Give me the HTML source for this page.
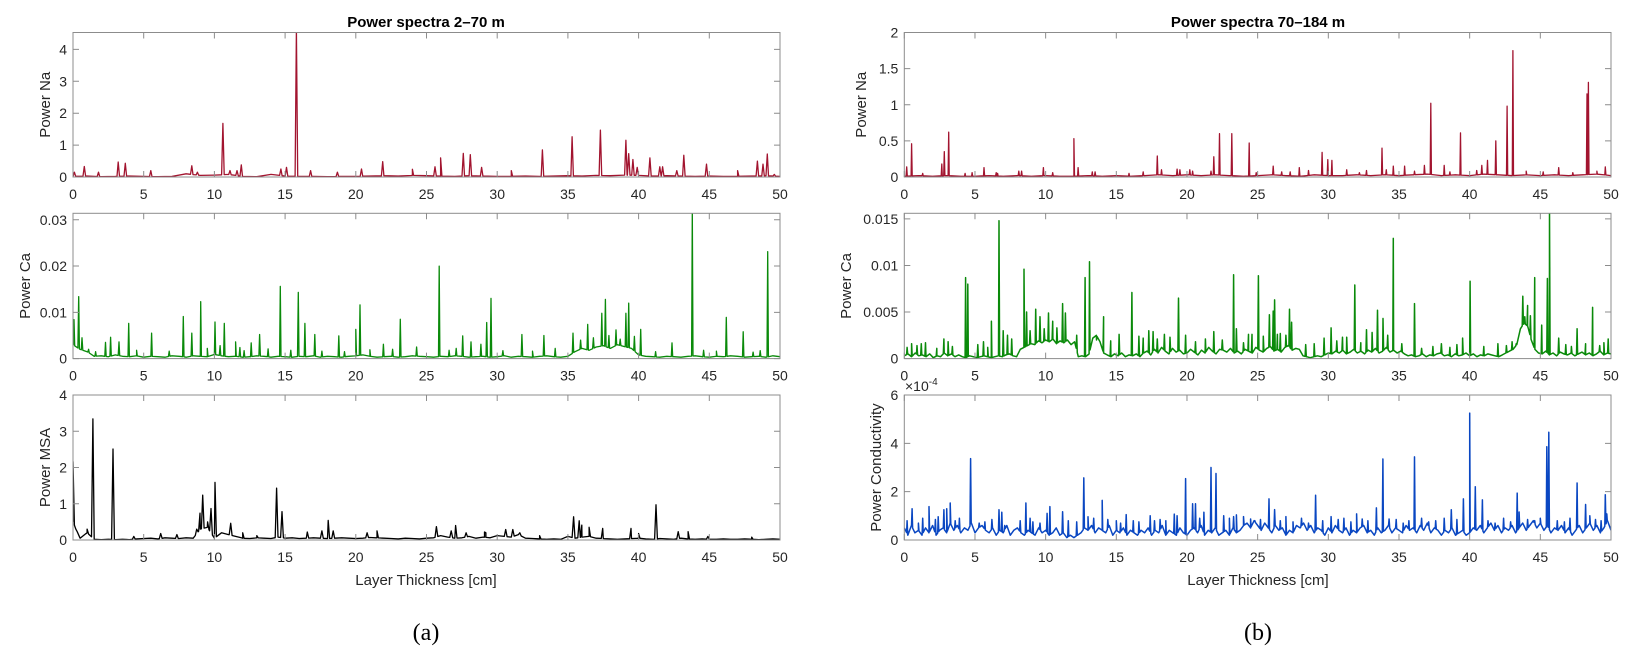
<!DOCTYPE html>
<html><head><meta charset="utf-8">
<style>
html,body{margin:0;padding:0;background:#fff;}
svg{display:block;font-family:"Liberation Sans",sans-serif;}
.tk{font-size:14px;fill:#262626;}
.lab{font-size:15px;fill:#262626;}
</style></head>
<body>
<svg id="fig" width="1634" height="659" viewBox="0 0 1634 659" xmlns="http://www.w3.org/2000/svg">
<text x="426" y="27" text-anchor="middle" font-weight="bold" font-size="15" fill="#000">Power spectra 2–70 m</text>
<text x="1258" y="27" text-anchor="middle" font-weight="bold" font-size="15" fill="#000">Power spectra 70–184 m</text>
<text x="426" y="585" text-anchor="middle" class="lab">Layer Thickness [cm]</text>
<text x="1258" y="585" text-anchor="middle" class="lab">Layer Thickness [cm]</text>
<text x="426" y="640" text-anchor="middle" font-family="Liberation Serif,serif" font-size="24" fill="#000">(a)</text>
<text x="1258" y="640" text-anchor="middle" font-family="Liberation Serif,serif" font-size="24" fill="#000">(b)</text>
<text x="905" y="391" class="tk" fill="#555">×10<tspan font-size="10" dy="-6">-4</tspan></text>
</svg>
<script>
// ---------- data ----------
const xTicks=[0,5,10,15,20,25,30,35,40,45,50];
// Left Na
const naLPeakX=[0.1,0.8,1.8,3.2,3.7,5.5,8.4,8.8,10.6,11.1,11.6,11.9,14.7,15.1,15.8,16.8,18.7,20.4,21.9,24.0,25.6,26.0,27.6,28.1,28.9,31.0,33.2,35.3,37.3,39.1,39.3,39.6,39.9,40.8,41.5,41.7,42.7,43.2,44.8,47.0,48.4,48.8,49.1,49.6];
const naLPeakY=[0.15,0.33,0.15,0.47,0.43,0.2,0.35,0.15,1.68,0.2,0.2,0.38,0.25,0.3,4.7,0.2,0.15,0.25,0.48,0.24,0.32,0.6,0.74,0.7,0.3,0.2,0.85,1.26,1.47,1.15,0.73,0.55,0.3,0.6,0.32,0.32,0.2,0.68,0.4,0.2,0.5,0.4,0.72,0.08];
const naLBase=[0.02,0.03,0.01,0.02,0.03,0.02,0.01,0.02,0.1,0.05,0.06,0.08,0.02,0.01,0.08,0.03,0.02,0.02,0.01,0.02,0.02,0.03,0.04,0.03,0.05,0.04,0.03,0.02,0.04,0.03,0.02,0.02,0.03,0.02,0.03,0.04,0.03,0.05,0.04,0.06,0.05,0.03,0.04,0.03,0.02,0.03,0.02,0.02,0.03,0.04,0.02];
// Left Ca (units of 0.001)
const caLPeakX=[0.07,0.4,0.64,2.3,2.66,3.25,3.94,5.56,7.8,8.4,9.03,10.04,10.7,11.5,12.6,13.2,14.66,15.93,16.4,17.1,18.8,20.0,20.3,21.95,23.15,24.3,25.9,27.56,28.15,28.85,29.26,29.56,31.75,33.3,34.1,35.36,36.4,37.4,37.65,38.4,39.1,39.3,40.15,42.36,43.8,46.2,47.4,49.13,
 1.1,1.6,4.5,6.8,9.5,10.4,11.8,12.1,13.8,15.4,17.6,19.2,21.0,22.6,26.6,27.1,30.4,32.5,35.9,36.8,37.9,38.7,39.7,41.2,44.6,45.5,48.1,48.6];
const caLPeakY=[8.4,13.4,4.5,3.5,4.6,3.6,7.6,5.5,9.1,5.5,12.3,7.9,7.6,3.6,3.4,5.2,15.6,14.3,7.6,5.2,4.9,6.3,11.6,3.1,8.5,2.5,20,4.9,3.6,3.1,7.8,13,5.2,5,2.2,5.5,7.4,9.8,12.8,6.2,9.8,12,6.3,3.4,33,8.9,5.8,23.1,
 2.0,1.5,1.8,1.6,2.2,2.8,2.4,1.7,2.1,1.8,1.6,1.5,1.9,2.0,1.8,2.2,1.7,1.6,4.0,4.5,5.0,4.2,4.8,1.5,1.8,1.6,1.4,1.7];
const caLBase=[3,2,1.5,0.5,0.6,0.4,0.8,0.5,0.4,0.6,0.3,0.5,0.4,0.3,0.6,0.5,0.3,0.6,0.5,0.4,0.9,0.6,0.4,0.5,0.3,0.4,0.6,0.5,0.3,0.5,0.4,0.3,0.5,0.4,0.6,0.3,0.5,0.4,0.3,0.5,0.6,0.8,0.5,0.3,0.4,0.5,0.3,0.4,0.6,0.5,0.4,0.3,0.5,0.4,0.6,0.5,0.3,0.4,0.5,0.3,0.4,0.6,0.3,0.5,0.4,0.3,0.5,0.6,0.4,0.3,0.5,1.5,2.2,1.8,2.5,2.8,2.2,3,2.6,2.2,0.8,0.5,0.4,0.3,0.5,0.4,0.3,0.5,0.6,0.4,0.3,0.5,0.4,0.6,0.5,0.3,0.4,0.5,0.3,0.6,0.4];
// Left MSA
const msaPeakX=[0.0,0.2,1.0,1.41,2.83,4.3,6.2,7.35,8.75,8.98,9.17,9.52,9.76,10.04,11.15,12.0,13.0,14.4,14.78,16.57,17.6,18.05,18.4,20.8,21.5,25.7,26.75,27.06,27.8,29.1,29.2,30.6,31.1,31.6,33.0,35.4,35.8,35.98,36.5,37.46,39.46,40.0,41.23,42.8,43.5,44.9,48.0];
const msaPeakY=[2.16,0.3,0.3,3.34,2.51,0.1,0.18,0.15,0.3,0.74,1.24,0.5,0.87,1.59,0.46,0.2,0.12,1.43,0.78,0.22,0.25,0.54,0.25,0.2,0.25,0.37,0.25,0.4,0.2,0.22,0.2,0.29,0.29,0.2,0.12,0.64,0.53,0.41,0.35,0.32,0.32,0.18,0.97,0.23,0.23,0.1,0.08];
const msaBase=[0.5,0.05,0.2,0.02,0.01,0.02,0.01,0.02,0.01,0.03,0.04,0.05,0.03,0.06,0.05,0.04,0.06,0.05,0.3,0.35,0.05,0.2,0.15,0.1,0.05,0.04,0.06,0.05,0.04,0.08,0.05,0.06,0.04,0.05,0.06,0.05,0.04,0.05,0.06,0.05,0.04,0.05,0.07,0.06,0.05,0.04,0.03,0.05,0.04,0.03,0.05,0.06,0.12,0.08,0.05,0.06,0.1,0.05,0.08,0.06,0.12,0.1,0.08,0.15,0.05,0.04,0.03,0.02,0.03,0.02,0.1,0.05,0.08,0.1,0.05,0.04,0.03,0.02,0.03,0.04,0.05,0.03,0.02,0.04,0.03,0.02,0.05,0.03,0.02,0.03,0.02,0.02,0.03,0.02,0.02,0.03,0.02,0.01,0.02,0.03,0.02];
// Right Na
const naRPeakX=[0.17,0.52,1.3,2.65,2.83,3.14,5.64,6.6,8.1,9.84,12.0,12.3,13.3,15.9,17.9,18.2,19.3,19.5,20.2,21.7,21.9,22.3,23.17,24.4,26.1,26.7,27.95,29.56,29.96,30.25,31.3,32.7,33.8,34.6,35.4,36.8,37.25,38.2,39.35,40.86,41.26,41.85,42.65,43.06,46.3,48.3,48.4,49.6,
 4.3,4.8,6.5,8.3,10.5,13.5,16.9,20.4,24.9,27.3,28.6,32.2,34.1,36.1,38.6,40.5,44.0,45.2,47.3,49.0];
const naRPeakY=[0.14,0.46,0.05,0.18,0.35,0.62,0.13,0.05,0.08,0.13,0.53,0.13,0.07,0.05,0.29,0.1,0.11,0.1,0.1,0.08,0.28,0.6,0.6,0.47,0.15,0.07,0.13,0.34,0.24,0.23,0.1,0.09,0.4,0.15,0.15,0.16,1.02,0.16,0.61,0.16,0.23,0.5,0.98,1.75,0.13,1.15,1.31,0.14,
 0.05,0.06,0.06,0.08,0.06,0.07,0.07,0.08,0.06,0.07,0.09,0.06,0.1,0.08,0.07,0.09,0.08,0.07,0.06,0.08];
const naRBase=[0.01,0.02,0.01,0.02,0.01,0.01,0.02,0.01,0.02,0.01,0.02,0.01,0.01,0.02,0.01,0.02,0.01,0.02,0.03,0.02,0.03,0.02,0.03,0.02,0.01,0.02,0.03,0.02,0.01,0.03,0.02,0.02,0.03,0.02,0.03,0.02,0.03,0.04,0.02,0.03,0.02,0.04,0.03,0.02,0.03,0.02,0.03,0.02,0.03,0.04,0.02];
// Right Ca (units of 0.001)
const caRPeakX=[0.52,1.5,2.8,3.1,4.34,4.49,5.6,6.16,6.7,7.0,7.6,8.47,8.65,9.3,9.6,10.2,10.5,11.2,11.4,12.2,12.79,13.1,14.1,15.2,16.1,17.3,19.4,19.9,21.9,23.3,23.5,24.35,24.6,25.05,25.83,26.1,26.2,26.6,27.0,27.25,27.4,30.2,31.3,31.87,32.7,33.48,33.87,34.6,36.1,38.0,39.5,40.03,43.3,43.76,43.9,44.1,44.3,44.6,45.1,45.5,45.65,46.3,47.6,48.7,49.8,
 0.2,0.9,1.2,2.3,3.4,5.2,5.9,7.3,8.9,9.9,10.8,13.6,14.6,16.6,16.9,17.6,17.9,18.4,18.8,20.6,21.3,22.5,24.0,25.4,26.4,28.4,29.0,29.7,30.6,31.0,32.3,33.1,34.2,35.2,36.6,37.4,38.6,39.1,41.0,42.0,42.6,43.0,46.8,47.2,48.2,49.2,49.5];
const caRPeakY=[1.6,1.7,2.1,1.8,8.7,8.0,1.8,4.0,14.8,3.0,2.1,9.6,5.0,5.3,4.5,4.9,4.0,5.9,4.9,2.5,8.7,10.4,4.5,2.6,7.1,3.0,6.5,2.5,2.9,9.0,3.2,2.6,2.6,8.9,4.7,5.1,6.3,2.7,2.5,5.3,3.9,3.3,2.3,7.9,3.1,5.2,4.3,12.9,5.9,1.6,2.2,8.3,1.6,6.7,4.5,5.7,4.6,8.7,3.6,8.6,16.5,2.2,3.2,5.5,2.1,
 1.2,1.4,1.6,1.1,1.3,1.5,1.2,2.5,3.0,3.2,3.3,2.0,1.9,2.4,2.2,2.9,2.1,2.6,2.3,1.8,2.1,2.0,1.7,2.4,2.6,1.5,1.6,2.2,1.9,2.3,1.7,2.8,2.5,1.6,1.1,1.3,1.2,1.5,1.3,1.6,1.4,1.8,1.5,1.3,1.6,1.4,1.7];
const caRBase=[0.3,0.5,0.2,0.6,0.3,0.4,0.2,0.5,0.1,0.3,0.2,0.6,0.3,0.5,0.2,0.4,0.2,0.1,0.3,0.2,0.1,0.2,0.3,0.2,0.1,0.2,0.3,0.2,0.4,0.5,0.3,0.2,1.0,1.2,1.4,1.6,1.5,1.9,1.7,2.0,1.8,2.1,1.6,1.9,1.7,2.0,1.5,1.8,0.2,0.3,0.2,0.5,2.2,2.5,1.8,0.6,0.4,0.2,0.5,0.3,0.6,0.2,0.4,0.3,0.5,0.2,0.6,0.8,0.4,1.0,0.6,1.2,0.8,0.5,1.1,0.7,0.9,0.5,0.6,1.0,0.7,0.4,0.9,0.6,1.2,0.8,0.5,1.0,0.9,0.7,1.1,0.6,0.8,0.5,1.0,0.8,0.6,1.2,0.9,0.7,1.1,1.3,0.8,1.0,0.7,1.2,1.4,0.9,1.1,1.0,0.3,0.2,0.1,0.2,0.3,0.2,0.4,0.6,0.5,0.8,0.6,0.9,0.5,0.7,1.0,0.6,0.8,0.5,0.9,0.7,1.1,0.6,0.8,1.2,0.7,0.9,0.6,0.8,0.5,0.3,0.4,0.2,0.3,0.5,0.2,0.4,0.3,0.5,0.6,0.3,0.4,0.2,0.5,0.3,0.4,0.6,0.3,0.5,0.2,0.4,0.3,0.5,0.4,0.3,0.2,0.4,0.6,0.8,1.0,1.5,3.2,3.8,3.5,2.0,1.0,0.6,0.5,0.8,0.4,0.6,0.3,0.7,0.5,0.4,0.6,0.3,0.5,0.7,0.4,0.6,0.3,0.5,0.8,0.4,0.6,0.5];
// Right Conductivity (units of 1e-4)
const coPeakX=[0.55,1.75,2.2,2.4,2.8,3.0,3.25,4.69,6.7,6.9,8.6,9.1,10.1,10.3,11.2,12.7,13.0,14.0,15.0,15.7,17.4,17.7,19.1,19.3,19.9,20.4,20.6,21.2,21.7,22.05,23.3,23.5,24.0,24.5,25.8,26.2,27.0,29.1,30.2,32.0,32.4,33.4,33.86,34.3,36.1,38.7,39.56,40.0,40.4,40.9,43.36,43.5,45.46,45.6,47.6,48.2,48.5,49.6,49.7,
 0.2,1.0,1.3,3.6,3.9,5.3,5.7,6.2,7.1,8.2,8.9,9.6,11.6,12.2,13.4,14.4,15.3,16.2,16.6,18.1,18.5,20.9,22.6,23.0,24.8,25.2,26.6,27.5,28.1,28.6,29.6,30.7,31.1,31.6,32.8,34.8,35.3,35.7,36.6,37.1,37.6,38.2,39.1,41.3,41.8,42.4,42.9,44.1,44.6,45.0,46.2,46.7,47.1,48.9,49.3];
const coPeakY=[1.29,1.38,0.85,0.96,1.25,1.29,1.53,3.37,1.25,1.15,1.53,0.75,1.1,1.38,1.17,2.57,0.96,1.64,0.8,1.05,1.0,0.8,1.07,1.0,2.54,1.5,1.5,1.15,3.0,2.75,0.97,1.04,0.97,0.87,1.7,1.26,0.97,1.85,0.97,1.08,0.87,1.33,3.35,0.87,3.44,1.25,1.7,5.25,2.2,1.66,1.94,1.16,3.86,4.46,2.36,1.47,1.0,1.87,1.08,
 0.8,0.7,0.9,0.8,0.9,0.7,0.75,0.85,0.6,0.8,0.9,0.7,0.8,0.75,0.9,0.85,0.7,0.8,0.75,0.85,0.8,0.9,1.0,0.9,0.8,0.85,0.8,0.75,0.9,0.7,0.8,0.85,0.9,0.75,0.8,0.85,0.7,0.8,0.9,0.75,0.8,0.9,0.85,0.8,0.7,0.9,0.75,0.85,0.8,0.9,0.8,0.75,0.9,0.85,0.8];
const coBase=[0.5,0.2,0.6,0.3,0.4,0.2,0.5,0.3,0.6,0.2,0.4,0.5,0.3,0.7,0.4,0.6,0.3,0.5,0.4,0.7,0.3,0.5,0.6,0.4,0.3,0.5,0.2,0.4,0.3,0.6,0.2,0.4,0.5,0.3,0.2,0.4,0.3,0.2,0.5,0.3,0.4,0.2,0.3,0.5,0.2,0.3,0.1,0.2,0.1,0.2,0.3,0.5,0.4,0.6,0.3,0.5,0.4,0.3,0.6,0.2,0.4,0.3,0.5,0.2,0.4,0.3,0.2,0.4,0.3,0.5,0.2,0.4,0.3,0.6,0.2,0.4,0.3,0.2,0.5,0.3,0.2,0.4,0.5,0.3,0.6,0.2,0.4,0.3,0.5,0.2,0.3,0.4,0.2,0.5,0.3,0.4,0.6,0.7,0.5,0.8,0.6,0.4,0.7,0.5,0.3,0.6,0.4,0.5,0.2,0.4,0.3,0.6,0.5,0.7,0.4,0.6,0.3,0.5,0.4,0.2,0.5,0.3,0.6,0.4,0.3,0.5,0.2,0.4,0.3,0.5,0.6,0.3,0.4,0.2,0.5,0.3,0.4,0.6,0.3,0.5,0.4,0.3,0.6,0.4,0.5,0.3,0.6,0.4,0.7,0.3,0.5,0.4,0.2,0.4,0.3,0.5,0.2,0.3,0.4,0.2,0.3,0.5,0.4,0.6,0.3,0.5,0.7,0.4,0.6,0.3,0.5,0.4,0.6,0.3,0.5,0.7,0.4,0.6,0.8,0.5,0.7,0.4,0.6,0.3,0.5,0.4,0.6,0.3,0.5,0.2,0.4,0.6,0.3,0.5,0.7,0.4,0.6,0.3,0.5,0.8,0.4];
const naLTicks=[0,1,2,3,4];
const caLTicks=[0,0.01,0.02,0.03];
const msaTicks=[0,1,2,3,4];
const naRTicks=[0,0.5,1,1.5,2];
const caRTicks=[0,0.005,0.01,0.015];
const coTicks=[0,2,4,6];

// ---------- drawing ----------
const NS='http://www.w3.org/2000/svg';
const svg=document.getElementById('fig');
function mk(tag,attrs){const e=document.createElementNS(NS,tag);for(const k in attrs)e.setAttribute(k,attrs[k]);svg.appendChild(e);return e;}

function panel(cfg){
  const {x0,x1,y0,y1,ymax,name}=cfg;
  const sx=v=>x0+(v/50)*(x1-x0);
  const sy=v=>y1-(Math.min(v,ymax*1.02)/ymax)*(y1-y0);
  const cp=mk('clipPath',{id:'cp-'+name});
  const r=document.createElementNS(NS,'rect');r.setAttribute('x',x0);r.setAttribute('y',y0);r.setAttribute('width',x1-x0);r.setAttribute('height',y1-y0);cp.appendChild(r);
  const pts=[];
  const base=cfg.base, step=50/(base.length-1);
  const bAt=x=>{const i=Math.min(base.length-2,Math.max(0,Math.floor(x/step)));const t=(x-i*step)/step;return (base[i]*(1-t)+base[i+1]*t)*cfg.scale;};
  base.forEach((b,i)=>pts.push([i*step,b*cfg.scale]));
  cfg.px.forEach((px,i)=>{const w=cfg.w;pts.push([Math.max(0,px-w),bAt(Math.max(0,px-w))]);pts.push([px,cfg.py[i]*cfg.scale]);pts.push([Math.min(50,px+w),bAt(Math.min(50,px+w))]);});
  pts.sort((a,b)=>a[0]-b[0]);
  const d=pts.map((p,i)=>(i?'L':'M')+sx(p[0]).toFixed(1)+' '+sy(p[1]).toFixed(1)).join('');
  const line=mk('path',{d:d,fill:'none',stroke:cfg.color,'stroke-width':cfg.sw||1.3,'stroke-linejoin':'round','clip-path':'url(#cp-'+name+')'});
  
  
  const box=mk('rect',{x:x0,y:y0,width:x1-x0,height:y1-y0,fill:'none',stroke:'#8c8c8c','stroke-width':1});
  
  
  xTicks.forEach(t=>{
    const X=sx(t);
    const tk=mk('path',{d:`M${X} ${y1}V${y1-6}M${X} ${y0}V${y0+6}`,stroke:'#8c8c8c','stroke-width':1});
    
    
    const tl=mk('text',{x:X,y:y1+22,'text-anchor':'middle',class:'tk'});tl.textContent=t;
    
    
  });
  cfg.ticks.forEach(t=>{
    const Y=y1-(t/ymax)*(y1-y0);
    const tk=mk('path',{d:`M${x0} ${Y}H${x0+6}M${x1} ${Y}H${x1-6}`,stroke:'#8c8c8c','stroke-width':1});
    
    
    const tl=mk('text',{x:x0-6,y:Y+5,'text-anchor':'end',class:'tk'});tl.textContent=t;
    
    
  });
  const yl=mk('text',{x:cfg.lx,y:(y0+y1)/2,'text-anchor':'middle',class:'lab',transform:`rotate(-90 ${cfg.lx} ${(y0+y1)/2})`});
  yl.textContent=cfg.label;
  
  
}
const L0=73,L1=780,R0=904.3,R1=1611;
const rows=[[32.5,177],[213.3,358.6],[395,540]];
panel({name:'na-left',x0:L0,x1:L1,y0:rows[0][0],y1:rows[0][1],ymax:4.53,px:naLPeakX,py:naLPeakY,base:naLBase,scale:1,w:0.09,color:'#a2142f',ticks:naLTicks,label:'Power Na',lx:50});
panel({name:'ca-left',x0:L0,x1:L1,y0:rows[1][0],y1:rows[1][1],ymax:0.0314,px:caLPeakX,py:caLPeakY,base:caLBase,scale:0.001,w:0.05,color:'#0a8a0a',ticks:caLTicks,label:'Power Ca',lx:30});
panel({name:'msa-left',x0:L0,x1:L1,y0:rows[2][0],y1:rows[2][1],ymax:4,px:msaPeakX,py:msaPeakY,base:msaBase,scale:1,w:0.1,color:'#000',ticks:msaTicks,label:'Power MSA',lx:50});
panel({name:'na-right',x0:R0,x1:R1,y0:rows[0][0],y1:rows[0][1],ymax:2,px:naRPeakX,py:naRPeakY,base:naRBase,scale:1,w:0.04,color:'#a2142f',ticks:naRTicks,label:'Power Na',lx:866});
panel({name:'ca-right',x0:R0,x1:R1,y0:rows[1][0],y1:rows[1][1],ymax:0.0156,px:caRPeakX,py:caRPeakY,base:caRBase,scale:0.001,w:0.04,color:'#0a8a0a',ticks:caRTicks,label:'Power Ca',lx:851,sw:1.5});
panel({name:'conductivity-right',x0:R0,x1:R1,y0:rows[2][0],y1:rows[2][1],ymax:6,px:coPeakX,py:coPeakY,base:coBase,scale:1,w:0.04,color:'#0a47c2',ticks:coTicks,label:'Power Conductivity',lx:881,sw:1.5});
</script>
</body></html>
